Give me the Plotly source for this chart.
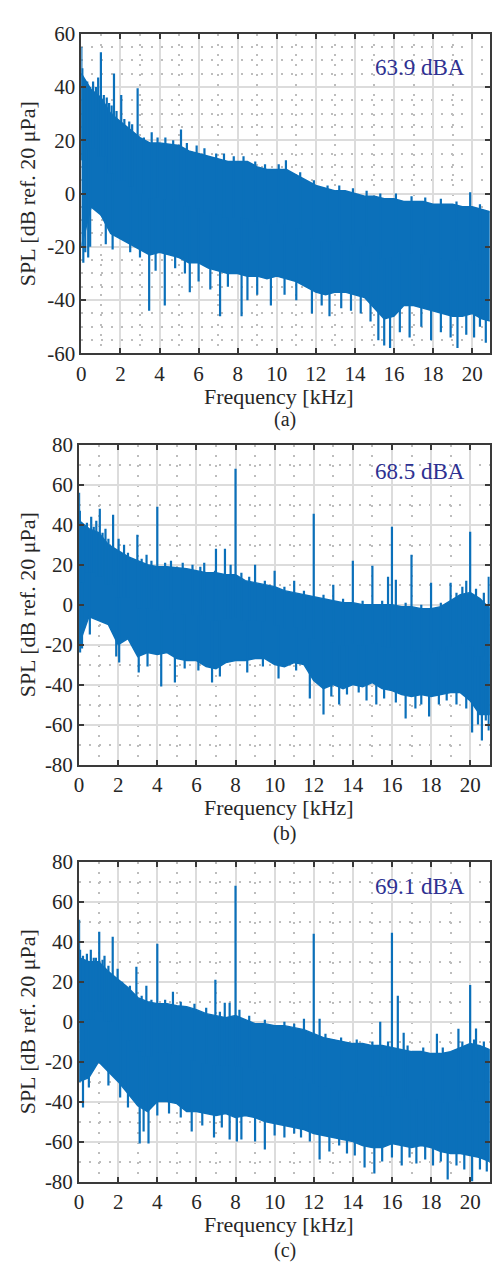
import plotly.graph_objects as go

# ---------------------------------------------------------------------------
# Narrow-band SPL spectra, three operating conditions (a), (b), (c)
# Broadband noise is described by its upper / lower envelope on a 0.5 kHz grid,
# tonal peaks, small ripples and deep notches are listed separately.
# ---------------------------------------------------------------------------
FREQ_KHZ = [0, 0.5, 1, 1.5, 2, 2.5, 3, 3.5, 4, 4.5, 5, 5.5, 6, 6.5, 7, 7.5, 8, 8.5,
            9, 9.5, 10, 10.5, 11, 11.5, 12, 12.5, 13, 13.5, 14, 14.5, 15, 15.5, 16,
            16.5, 17, 17.5, 18, 18.5, 19, 19.5, 20, 20.5, 21]

# ---- (a) ------------------------------------------------------------------
A_UPPER = [45, 39, 36, 30, 27, 24, 21, 19, 19, 18.5, 18, 16, 15, 14, 13, 12, 12, 12,
           10, 9, 9, 9, 7, 5, 3, 2, 1, 1, 0, -1, -1, -2, -2, -3, -3, -3, -4, -4, -4,
           -5, -5, -6, -7]
A_LOWER = [-20, -5, -8, -15, -17, -19, -21, -23, -22, -23, -24, -26, -26, -28, -29, -30,
           -30, -31, -31, -32, -31, -32, -33, -35, -37, -38, -37, -37, -38, -39, -43,
           -47, -46, -42, -42, -43, -44, -45, -46, -46, -45, -47, -48]
A_PEAK_F = [0.0, 0.05, 0.15, 0.25, 0.3, 0.45, 0.6, 0.75, 0.86, 1.0, 1.15, 1.3, 1.42,
            1.55, 1.67, 1.8, 2.04, 2.2, 2.45, 2.6, 2.88, 3.2, 3.6, 3.9, 4.3, 4.7, 5.1,
            5.4, 5.9, 6.3, 6.9, 7.3, 7.8, 8.3, 8.9, 9.4, 10.1, 10.47, 11.2, 11.9, 12.6,
            13.2, 13.9, 14.6, 15.3, 16.1, 16.9, 17.6, 18.4, 19.2, 19.9, 20.4]
A_PEAK_V = [55, 47, 40, 41, 42, 40, 42, 40, 43.5, 53, 37, 36, 34, 33, 45, 31, 37, 28,
            27, 26, 39.5, 21, 23, 21, 21, 20, 24, 19, 18, 17, 15, 15, 14, 14, 12, 11,
            11, 12.5, 8, 5, 3, 3, 2, 1, 0, 0, -1, -1.5, -2, -3, 0.5, -4]
A_DIP_F = [0.1, 0.2, 0.35, 0.45, 1.25, 1.6, 2.5, 3.0, 3.47, 3.8, 4.27, 4.8, 5.3, 5.55,
           6.0, 6.6, 7.1, 7.5, 8.2, 8.5, 9.0, 9.7, 10.4, 11.0, 11.8, 12.3, 12.7, 13.3,
           13.8, 14.3, 14.8, 15.2, 15.5, 15.8, 16.3, 16.8, 17.4, 17.9, 18.4, 18.9,
           19.25, 19.7, 20.1, 20.4, 20.7]
A_DIP_V = [-26, -22, -24, -20, -19, -21, -22, -24, -44, -29, -42, -28, -30, -37, -33,
           -36, -46, -35, -46, -40, -38, -42, -38, -40, -45, -42, -46, -43, -44, -45,
           -48, -55, -57, -58, -52, -54, -50, -55, -52, -54, -58, -53, -54, -50, -56]

# ---- (b) ------------------------------------------------------------------
B_UPPER = [42, 38, 36, 30, 27, 24, 22, 20, 19, 19, 18.5, 18, 17, 16, 16, 15, 15, 12,
           11, 10, 9, 7, 6, 5, 4, 3, 2, 1, 1, 0, 0, 0, 0, -1, -1, -2, -2, -1, 2, 5, 6,
           3, -2]
B_LOWER = [-20, -6, -8, -10, -20, -17, -26, -24, -25, -24, -27, -28, -28, -31, -32, -29,
           -28, -28, -27, -27, -30, -31, -29, -30, -38, -42, -40, -42, -40, -41, -39,
           -42, -43, -45, -46, -45, -46, -45, -44, -44, -48, -55, -55]
B_PEAK_F = [0.0, 0.04, 0.2, 0.4, 0.62, 0.75, 0.88, 1.06, 1.2, 1.35, 1.5, 1.74, 2.02,
            2.3, 2.5, 2.98, 3.2, 3.45, 3.7, 4.0, 4.4, 4.7, 5.3, 5.8, 6.2, 6.4, 6.95,
            7.0, 7.46, 7.75, 8.0, 8.3, 8.7, 9.0, 9.5, 10.0, 10.5, 11.0, 11.5, 12.0,
            12.5, 13.0, 13.5, 14.0, 14.5, 15.0, 15.5, 15.8, 16.0, 16.2, 16.7, 17.0,
            17.5, 18.0, 18.5, 19.0, 19.3, 19.6, 19.8, 20.0, 20.3, 20.7, 20.95]
B_PEAK_V = [56, 47, 40, 41, 44, 39, 42, 48, 36, 38, 33, 45, 33, 30, 26, 35, 23, 25, 22,
            49, 21, 22, 21, 20, 19, 21, 17, 28, 28, 20, 68, 16, 14, 20, 12, 17, 9, 12,
            7, 45.5, 5, 10, 3, 22, 2, 19.5, 2, 14, 39, 12.5, 1, 25, 0, 11, 1, 11, 6, 9,
            12, 36.5, 8, 6, 14]
B_DIP_F = [0.05, 0.15, 0.55, 1.9, 2.05, 3.05, 3.5, 4.2, 4.9, 5.4, 6.1, 6.8, 7.2, 8.6,
           9.4, 10.2, 11.1, 11.8, 12.5, 12.9, 13.3, 13.7, 14.3, 14.7, 15.2, 15.6, 16.2,
           16.7, 17.2, 17.5, 17.9, 18.4, 18.8, 19.3, 19.8, 20.1, 20.4, 20.6, 20.8, 20.95]
B_DIP_V = [-24, -22, -15, -26, -29, -34, -31, -41, -39, -32, -33, -39, -36, -34, -31,
           -37, -33, -47, -55, -46, -50, -45, -44, -48, -50, -47, -49, -57, -52, -50,
           -56, -50, -48, -50, -52, -64, -60, -68, -58, -63]

# ---- (c) ------------------------------------------------------------------
C_UPPER = [32, 30, 30, 25, 21, 17, 12, 10, 9, 9, 8, 7.5, 6, 4, 3, 2, 3, 1, -1, -1, -2,
           -2, -3, -4, -6, -8, -9, -10, -11, -11, -12, -12, -13, -14, -15, -15, -16,
           -16, -15, -13, -11, -12, -14]
C_LOWER = [-30, -28, -20, -25, -30, -36, -42, -45, -40, -40, -41, -45, -45, -46, -47,
           -46, -48, -47, -48, -50, -51, -52, -53, -54, -56, -57, -58, -59, -60, -62,
           -63, -63, -61, -62, -63, -62, -63, -65, -66, -66, -67, -68, -70]
C_PEAK_F = [0.0, 0.05, 0.2, 0.4, 0.6, 0.75, 0.86, 1.03, 1.2, 1.3, 1.5, 1.72, 1.97, 2.2,
            2.6, 2.93, 3.2, 3.44, 3.7, 4.0, 4.4, 4.8, 5.2, 5.9, 6.5, 6.97, 7.2, 7.45,
            7.7, 8.0, 8.2, 8.7, 9.5, 10.5, 11.0, 11.5, 12.0, 12.3, 12.6, 13.4, 14.2,
            15.0, 15.4, 15.8, 16.0, 16.3, 16.6, 16.8, 17.6, 18.3, 18.6, 19.4, 19.6,
            20.0, 20.2, 20.3, 20.7]
C_PEAK_V = [51, 36, 33, 34, 36, 32, 32, 45, 31, 33, 28, 42.5, 26.5, 20, 18, 27.5, 13,
            18, 11, 39, 11, 15, 10, 9, 7, 21, 5, 9.5, 9.5, 68, 6, 3, 1, 0, -1, 1.5, 44,
            1.5, -6, -8, -9, -10, 0, -10, 44.5, 13, -5.5, -12, -13, -6, -13, -3.5, -10,
            18.3, -9, -3.4, -10]
C_DIP_F = [0.2, 0.5, 1.5, 2.1, 2.5, 3.1, 3.3, 3.55, 4.0, 4.6, 5.2, 5.76, 6.3, 6.9, 7.3,
           7.7, 8.07, 8.3, 9.0, 9.5, 10.0, 10.5, 11.0, 11.35, 11.8, 12.3, 12.8, 13.3,
           13.7, 14.1, 14.6, 15.1, 15.5, 16.0, 16.5, 16.9, 17.25, 17.7, 18.1, 18.5,
           18.85, 19.3, 19.7, 20.1, 20.5, 20.85]
C_DIP_V = [-43, -33, -32, -38, -43, -61, -55, -61, -47, -46, -48, -55, -52, -58, -53,
           -59, -60, -59, -60, -64, -57, -58, -56, -58, -60, -69, -65, -62, -66, -67,
           -73, -76, -70, -68, -72, -68, -71, -69, -72, -70, -79, -72, -74, -80, -74, -75]

# Overall A-weighted levels and captions
LEVELS = ["63.9 dBA", "68.5 dBA", "69.1 dBA"]
CAPTIONS = ["(a)", "(b)", "(c)"]

# Axis ticks
X_TICKS = [0, 2, 4, 6, 8, 10, 12, 14, 16, 18, 20]
X_TICK_TEXT = ["0", "2", "4", "6", "8", "10", "12", "14", "16", "18", "20"]
Y_TICKS_A = [-60, -40, -20, 0, 20, 40, 60]
Y_TICK_TEXT_A = ["-60", "-40", "-20", "0", "20", "40", "60"]
Y_TICKS_BC = [-80, -60, -40, -20, 0, 20, 40, 60, 80]
Y_TICK_TEXT_BC = ["-80", "-60", "-40", "-20", "0", "20", "40", "60", "80"]

X_TITLE = "Frequency [kHz]"
Y_TITLE = "SPL [dB ref. 20 μPa]"

# ---------------------------------------------------------------------------
W, H = 492, 1275
BLUE = "#0b70ba"
INK = "#262626"
NAVY = "#2e3192"
FONT = "Liberation Serif"
FS_TICK = 21
FS = 22


def px(x):
    return x / W


def py(y):
    return 1 - y / H


panels = [
    dict(upper=A_UPPER, lower=A_LOWER, pf=A_PEAK_F, pv=A_PEAK_V, df=A_DIP_F, dv=A_DIP_V,
         xr=[0, 20.9], yr=[-60, 60], yt=Y_TICKS_A, ytt=Y_TICK_TEXT_A, ym=5,
         box=(77.3, 22, 490.7, 348), lvl_y=57, xt_y=392, cap_y=415),
    dict(upper=B_UPPER, lower=B_LOWER, pf=B_PEAK_F, pv=B_PEAK_V, df=B_DIP_F, dv=B_DIP_V,
         xr=[0, 21], yr=[-80, 80], yt=Y_TICKS_BC, ytt=Y_TICK_TEXT_BC, ym=10,
         box=(75, 441, 490.7, 767), lvl_y=468, xt_y=811, cap_y=837),
    dict(upper=C_UPPER, lower=C_LOWER, pf=C_PEAK_F, pv=C_PEAK_V, df=C_DIP_F, dv=C_DIP_V,
         xr=[0, 21], yr=[-80, 80], yt=Y_TICKS_BC, ytt=Y_TICK_TEXT_BC, ym=10,
         box=(75, 866, 490.7, 1192), lvl_y=891, xt_y=1236, cap_y=1262),
]


def nearest(f):
    return min(range(len(FREQ_KHZ)), key=lambda i: abs(FREQ_KHZ[i] - f))


fig = go.Figure()
annotations = []
layout_axes = {}

for k, p in enumerate(panels):
    n = "" if k == 0 else str(k + 1)
    xa, ya = "x" + n, "y" + n

    # broadband band
    fig.add_trace(go.Scatter(
        x=FREQ_KHZ + FREQ_KHZ[::-1], y=p["upper"] + p["lower"][::-1],
        xaxis=xa, yaxis=ya, mode="lines", fill="toself", fillcolor=BLUE,
        line=dict(color=BLUE, width=1.5), hoverinfo="skip", showlegend=False))

    # peaks, ripples and notches, each drawn from the middle of the band
    sx, sy = [], []
    for f, v in list(zip(p["pf"], p["pv"])) + list(zip(p["df"], p["dv"])):
        i = nearest(f)
        mid = (p["upper"][i] + p["lower"][i]) / 2
        sx += [f, f, None]
        sy += [mid, v, None]
    fig.add_trace(go.Scatter(
        x=sx, y=sy, xaxis=xa, yaxis=ya, mode="lines",
        line=dict(color=BLUE, width=2.2), hoverinfo="skip", showlegend=False))

    x0, y0, x1, y1 = p["box"]
    common = dict(showline=True, linecolor="#3a3a3a", linewidth=2, mirror="ticks",
                  ticks="inside", ticklen=5, tickwidth=2, tickcolor="#3a3a3a",
                  showgrid=True, gridcolor="#dcdcdc", gridwidth=2, zeroline=False,
                  tickfont=dict(family=FONT, size=FS_TICK, color=INK))
    layout_axes["xaxis" + n] = dict(
        common, domain=[px(x0), px(x1)], range=p["xr"], anchor=ya,
        tickvals=X_TICKS, ticktext=X_TICK_TEXT,
        minor=dict(dtick=1, tick0=0, showgrid=True, gridcolor="#bdbdbd",
                   griddash="2px,8px", gridwidth=1.5, ticks=""))
    layout_axes["yaxis" + n] = dict(
        common, domain=[py(y1), py(y0)], range=p["yr"], anchor=xa,
        tickvals=p["yt"], ticktext=p["ytt"],
        minor=dict(dtick=p["ym"], tick0=0, showgrid=True, gridcolor="#bdbdbd",
                   griddash="2px,8px", gridwidth=1.5, ticks=""))

    # texts
    annotations += [
        dict(text=LEVELS[k], x=px(468), y=py(p["lvl_y"]), xref="paper", yref="paper",
             xanchor="right", yanchor="middle", showarrow=False,
             font=dict(family=FONT, size=23, color=NAVY)),
        dict(text=X_TITLE, x=px(277), y=py(p["xt_y"]), xref="paper", yref="paper",
             xanchor="center", yanchor="middle", showarrow=False,
             font=dict(family=FONT, size=FS, color=INK)),
        dict(text=CAPTIONS[k], x=px(283), y=py(p["cap_y"]), xref="paper", yref="paper",
             xanchor="center", yanchor="middle", showarrow=False,
             font=dict(family=FONT, size=20, color=INK)),
        dict(text=Y_TITLE, x=px(23), y=py((y0 + y1) / 2), xref="paper", yref="paper",
             xanchor="center", yanchor="middle", textangle=-90, showarrow=False,
             font=dict(family=FONT, size=FS, color=INK)),
    ]

fig.update_layout(
    width=W, height=H, margin=dict(l=0, r=0, t=0, b=0),
    paper_bgcolor="white", plot_bgcolor="white", showlegend=False,
    annotations=annotations, **layout_axes)

fig.write_html("out.html")
